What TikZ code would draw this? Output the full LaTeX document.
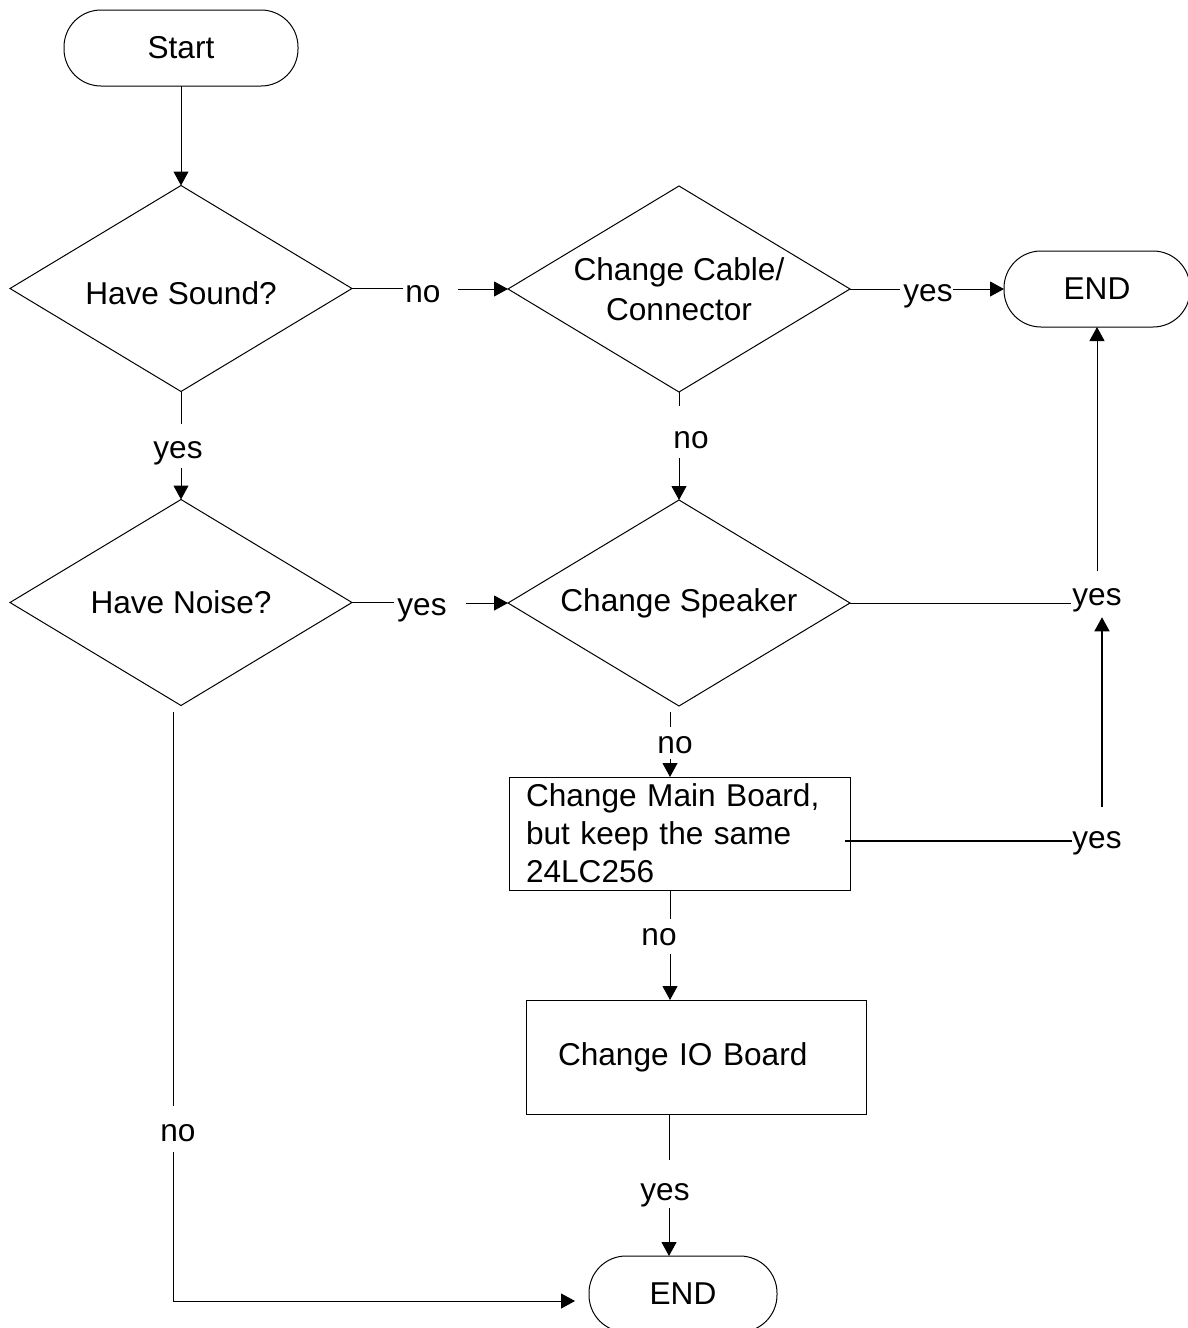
\documentclass[tikz,border=0pt]{standalone}
\usepackage{fontspec}
\setmainfont{Liberation Sans}
\usetikzlibrary{shapes.geometric,arrows.meta}
\tikzset{
  base/.style={draw, line width=1pt, inner sep=0pt, outer sep=0pt},
  term/.style={base, rectangle, rounded corners=37pt, minimum width=#1, minimum height=76pt},
  dec/.style={base, diamond, shape aspect=1.66, minimum width=342pt, minimum height=206pt, align=center},
  proc/.style={base, rectangle, align=left},
  lab/.style={inner sep=0pt, anchor=base},
  con/.style={line width=1pt},
  arr/.style={con, -{Triangle[length=14pt,width=15pt]}},
}
\begin{document}
\begin{tikzpicture}[x=1pt,y=-1pt, font=\fontsize{31.6pt}{38pt}\selectfont]
\useasboundingbox (0,0) rectangle (1188,1328);
% nodes
\node[term=234pt] (start) at (181,48) {Start};
\node[dec, text height=32pt, text depth=0pt] (snd) at (181,288.5) {Have Sound?};
\node[dec] (cab) at (679,289) {Change Cable/\\[2pt]Connector};
\node[term=186pt] (end1) at (1097,289) {END};
\node[dec] (noi) at (181,602.5) {Have Noise?};
\node[dec] (spk) at (679,603) {Change Speaker};
\node[proc, minimum width=341pt, minimum height=113pt, text width=307pt, inner xsep=17pt] (mb) at (679.5,833.5)
  {Change Main Board,\\but keep the same\\24LC256};
\node[proc, minimum width=340pt, minimum height=114pt, text width=276pt, inner xsep=32pt] (io) at (696,1057)
  {Change IO Board};
\node[term=188pt] (end2) at (683,1294) {END};
% labels
\node[lab] (L1) at (423,302) {no};
\node[lab] (L2) at (928,301) {yes};
\node[lab] (L3) at (178,458) {yes};
\node[lab] (L4) at (691,448) {no};
\node[lab] (L5) at (422,615) {yes};
\node[lab] (L6) at (1097,605) {yes};
\node[lab] (L7) at (1097,848) {yes};
\node[lab] (L8) at (675,753) {no};
\node[lab] (L9) at (659,945) {no};
\node[lab] (L10) at (665,1200) {yes};
\node[lab] (L11) at (178,1141) {no};
% helper coordinates
\coordinate (s8) at ([xshift=-9pt]spk.south);
\coordinate (m8) at ([xshift=-9.5pt]mb.north);
\coordinate (m9) at ([xshift=-9.5pt]mb.south);
\coordinate (i9) at ([xshift=-26pt]io.north);
\coordinate (i10) at ([xshift=-27pt]io.south);
\coordinate (e10) at ([xshift=-14pt]end2.north);
\coordinate (n11) at ([xshift=-8pt]noi.south);
\coordinate (e11) at ([yshift=-7pt]end2.west);
\coordinate (mbr) at ([yshift=-7.5pt]mb.east);
\coordinate (y6) at ([xshift=5pt]L6.south);
\coordinate (y7) at ([xshift=5pt]L7.north);
% connectors
\draw[arr] (start.south) -- (snd.north);
\draw[con, shorten >=2pt] (snd.east) -- (snd.east -| L1.west);
\draw[arr, shorten <=17pt] (cab.west -| L1.east) -- (cab.west);
\draw[con, shorten >=3pt] (cab.east) -- (cab.east -| L2.west);
\draw[arr] (end1.west -| L2.east) -- (end1.west);
\draw[con, shorten >=17pt] (snd.south) -- (snd.south |- L3.north);
\draw[arr, shorten <=3.5pt] (noi.north |- L3.south) -- (noi.north);
\draw[con, shorten >=24.5pt] (cab.south) -- (cab.south |- L4.north);
\draw[arr, shorten <=9pt] (spk.north |- L4.south) -- (spk.north);
\draw[con, shorten >=3pt] (noi.east) -- (noi.east -| L5.west);
\draw[arr, shorten <=19pt] (spk.west -| L5.east) -- (spk.west);
\draw[con, shorten >=1pt] (spk.east) -- (spk.east -| L6.west);
\draw[arr, shorten <=16.5pt] (L6.north) -- (end1.south);
\draw[con, line width=1.5pt] ([xshift=-5pt]mbr) -- (mbr -| L7.west);
\draw[arr, line width=1.5pt, shorten <=23.5pt, shorten >=5.5pt] (y7) -- (y6);
\draw[con, shorten <=6pt, shorten >=8.5pt] (s8) -- (s8 |- L8.north);
\draw[arr, shorten <=5pt] (m8 |- L8.south) -- (m8);
\draw[con, shorten >=8.5pt] (m9) -- (m9 |- L9.north);
\draw[arr, shorten <=8pt] (i9 |- L9.south) -- (i9);
\draw[con, shorten >=22.5pt] (i10) -- (i10 |- L10.north);
\draw[arr, shorten <=1.5pt] (e10 |- L10.south) -- (e10);
\draw[con, shorten <=6.5pt, shorten >=17.5pt] (n11) -- (n11 |- L11.north);
\draw[arr, shorten <=10pt, shorten >=14pt] (n11 |- L11.south) -- (n11 |- e11) -- (e11);
\end{tikzpicture}
\end{document}
